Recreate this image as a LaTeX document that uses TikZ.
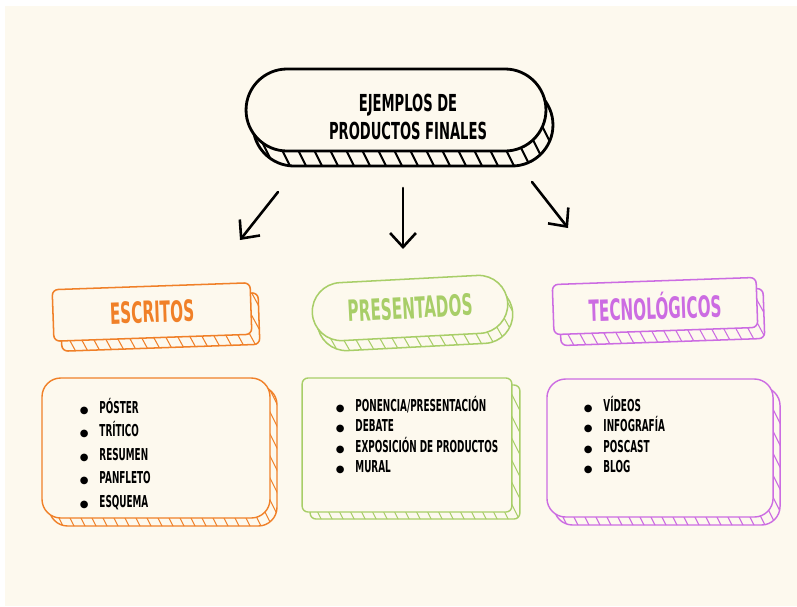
\documentclass[tikz,border=0pt]{standalone}
\usepackage{fontspec}
\newfontfamily\handT[FakeStretch=0.56]{DejaVu Sans}
\newfontfamily\handH[FakeStretch=0.52]{DejaVu Sans}
\newfontfamily\handL[FakeStretch=0.54]{DejaVu Sans}
\newfontfamily\dvs{DejaVu Sans}
\usetikzlibrary{arrows.meta,shapes.misc,calc}
\definecolor{cream}{RGB}{253,249,238}
\definecolor{corange}{RGB}{240,128,40}
\definecolor{cgreen}{RGB}{168,206,104}
\definecolor{cpurple}{RGB}{204,108,226}
\newcommand\titlefont{\handT\bfseries\fontsize{20}{24.5}\selectfont}
\newcommand\headfont{\handH\bfseries\fontsize{25}{28}\selectfont}
\newcommand\listfont{\handL\bfseries\fontsize{14}{16}\selectfont}
\newcommand\blt{\makebox[13pt][l]{\makebox[0pt][c]{\dvs\mdseries\fontsize{8.5}{8.5}\selectfont ●}}}
\tikzset{
  hatch/.style 2 args={path picture={
    \foreach \i in {0,...,45}{
      \draw[line width=0.9pt,#1] ($(path picture bounding box.north west)+(\i*#2-100,0)$) -- ++(100,200);}}},
  facebox/.style={fill=cream, inner sep=0pt, line join=round},
  headbox/.style={facebox, rectangle, rounded corners=5pt, minimum width=169pt, minimum height=44pt, line width=1.3pt, font=\headfont},
  pillbox/.style={facebox, rounded rectangle, line width=1.3pt, font=\headfont},
  listbox/.style={facebox, rectangle, line width=1.2pt},
  item/.style={anchor=base west, inner sep=0pt, font=\listfont},
  arrowline/.style={line width=2.2pt, line cap=round, line join=round,
    -{Straight Barb[length=12pt,width=22pt]}},
}
\begin{document}
\begin{tikzpicture}[x=0.03cm,y=-0.03cm]
\fill[white] (0,0) rectangle (797,606);
\fill[cream] (5,6) rectangle (797,606);
\useasboundingbox (0,0) rectangle (797,606);

% top box
\node[facebox, rounded rectangle, draw=black, line width=2.4pt, minimum width=256pt, minimum height=70pt,
  hatch={black,line width=1.7pt}{16}] (topd) at (403,125) {};
\node[facebox, rounded rectangle, draw=black, line width=2.4pt, minimum width=256pt, minimum height=70pt] (top) at (396,110) {};
\node[font=\titlefont, align=center, inner sep=0pt] (toptext) at (408,117) {EJEMPLOS DE\\PRODUCTOS FINALES};

% arrows
\coordinate (a1s) at (278,192); \coordinate (a1e) at (240,240);
\coordinate (a2s) at (403,188); \coordinate (a2e) at (403,249);
\coordinate (a3s) at (532,182); \coordinate (a3e) at (568,228);
\draw[arrowline] (a1s) -- (a1e);
\draw[arrowline] (a2s) -- (a2e);
\draw[arrowline] (a3s) -- (a3e);

% headings
\node[headbox, draw=corange, rotate=2, hatch={corange}{12}] (escd) at (160,322) {};
\node[headbox, draw=corange, rotate=2, text=corange] (esc) at (152,312) {ESCRITOS};

\node[pillbox, draw=cgreen, rotate=3, minimum width=167pt, minimum height=49.5pt, hatch={cgreen}{12}] (pred) at (415,318) {};
\node[pillbox, draw=cgreen, rotate=3, minimum width=167pt, minimum height=49.5pt, text=cgreen] (pre) at (410,308) {PRESENTADOS};

\node[headbox, draw=cpurple, rotate=2, minimum width=174pt, minimum height=42.7pt, hatch={cpurple}{12}] (tecd) at (662,317) {};
\node[headbox, draw=cpurple, rotate=2, minimum width=174pt, minimum height=42.7pt, text=cpurple] (tec) at (655,306) {TECNOLÓGICOS};

% list boxes
\node[listbox, draw=corange, rounded corners=16pt, minimum width=194.6pt, minimum height=119.5pt, hatch={corange}{11}] (escld) at (163,456) {};
\node[listbox, draw=corange, rounded corners=16pt, minimum width=194.6pt, minimum height=119.5pt] (escl) at (156,448) {};

\node[listbox, draw=cgreen, rounded corners=5pt, minimum width=179pt, minimum height=114.4pt, hatch={cgreen}{11}] (preld) at (415,452) {};
\node[listbox, draw=cgreen, rounded corners=5pt, minimum width=179pt, minimum height=114.4pt] (prel) at (407,445) {};

\node[listbox, draw=cpurple, rounded corners=16pt, minimum width=193pt, minimum height=117.8pt, hatch={cpurple}{11}] (tecld) at (667,456) {};
\node[listbox, draw=cpurple, rounded corners=16pt, minimum width=193pt, minimum height=117.8pt] (tecl) at (660,448) {};

% list items
\node[item] (e1) at (84,413) {\blt PÓSTER};
\node[item] (e2) at (84,436.5) {\blt TRÍTICO};
\node[item] (e3) at (84,460) {\blt RESUMEN};
\node[item] (e4) at (84,483.5) {\blt PANFLETO};
\node[item] (e5) at (84,507) {\blt ESQUEMA};

\node[item] (p1) at (340,411) {\blt PONENCIA/PRESENTACIÓN};
\node[item] (p2) at (340,431.5) {\blt DEBATE};
\node[item] (p3) at (340,452) {\blt EXPOSICIÓN DE PRODUCTOS};
\node[item] (p4) at (340,472.5) {\blt MURAL};

\node[item] (t1) at (588,411) {\blt VÍDEOS};
\node[item] (t2) at (588,431.5) {\blt INFOGRAFÍA};
\node[item] (t3) at (588,452.5) {\blt POSCAST};
\node[item] (t4) at (588,472.5) {\blt BLOG};
\end{tikzpicture}
\end{document}
